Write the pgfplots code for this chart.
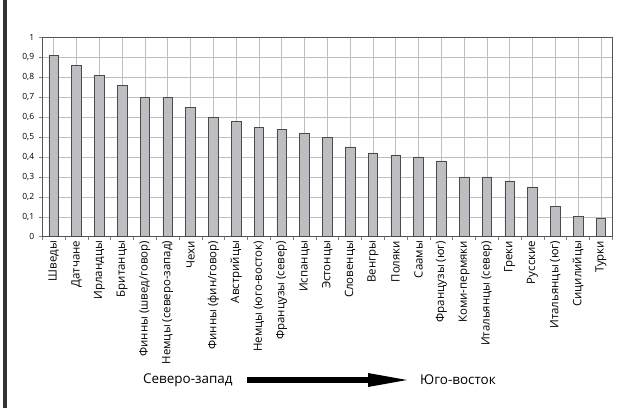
\documentclass[border=0pt]{standalone}
\usepackage{pgfplots}
\pgfplotsset{compat=1.18}
\usepackage{fontspec}
\setmainfont{Open Sans}
\definecolor{barfill}{HTML}{BEBEC2}
\definecolor{edge}{HTML}{4A4A4A}
\definecolor{grid}{HTML}{555555}
\begin{document}
\begin{tikzpicture}[x=1bp,y=1bp]
\useasboundingbox (0,0) rectangle (623,408);
\fill[white] (0,0) rectangle (623,408);
\draw[line width=3.2bp, black!80] (5,0) -- (5,408);
\begin{axis}[
  at={(42.3bp,171.3bp)}, anchor=south west,
  scale only axis, width=570bp, height=199.4bp,
  ymin=0, ymax=1,
  ytick={0,0.1,0.2,0.3,0.4,0.5,0.6,0.7,0.8,0.9,1},
  xmin=-0.5, xmax=24.5,
  xtick={0,...,24},
  minor xtick={-0.5,0.5,...,24.5},
  major x tick style={draw=none},
  minor tick length=3bp, major tick length=3bp,
  tick align=outside, xtick pos=bottom, ytick pos=left,
  ymajorgrids, grid style={grid, line width=0.5bp},
  axis line style={grid, line width=0.6bp},
  tick style={grid, line width=0.5bp},
  ybar, bar width=9.5bp,
  xticklabels={Шведы, Датчане, Ирландцы, Британцы, Финны (швед/говор), Немцы (северо-запад), Чехи, Финны (фин/говор), Австрийцы, Немцы (юго-восток), Французы (север), Испанцы, Эстонцы, Словенцы, Венгры, Поляки, Саамы, Французы (юг), Коми-пермяки, Итальянцы (север), Греки, Русские, Итальянцы (юг), Сицилийцы, Турки},
  xticklabel style={rotate=90, anchor=east, font=\fontsize{11.5}{12}\selectfont, inner sep=1bp},
  yticklabel style={font=\fontsize{8.5}{9}\selectfont, inner sep=0pt, xshift=-5bp},
  /pgf/number format/.cd, use comma, fixed, precision=1, assume math mode=true,
]
\addplot[fill=barfill, draw=edge, line width=0.6bp] coordinates {
(0,0.91) (1,0.86) (2,0.81) (3,0.76) (4,0.70) (5,0.70) (6,0.65) (7,0.60) (8,0.58)
(9,0.55) (10,0.54) (11,0.52) (12,0.50) (13,0.45) (14,0.42) (15,0.41) (16,0.40)
(17,0.38) (18,0.30) (19,0.30) (20,0.28) (21,0.25) (22,0.15) (23,0.10) (24,0.09)};
\end{axis}
\fill[black] (247,25) rectangle (369,31);
\fill[black] (368,35) -- (407,28) -- (368,21) -- cycle;
\node[anchor=west, inner sep=0, font=\fontsize{13.5}{15}\selectfont] at (143,28) {Северо-запад};
\node[anchor=west, inner sep=0, font=\fontsize{13.5}{15}\selectfont] at (420,28) {Юго-восток};
\end{tikzpicture}
\end{document}
